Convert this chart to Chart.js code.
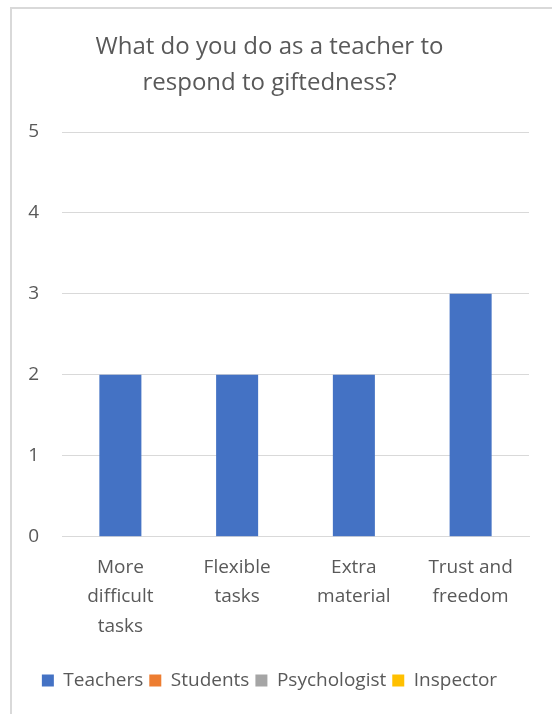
<!DOCTYPE html>
<html>
<head>
<meta charset="utf-8">
<script src="https://cdn.jsdelivr.net/npm/chart.js@4.4.1/dist/chart.umd.min.js"></script>
<style>
  html, body { margin: 0; padding: 0; background: #ffffff; }
  #wrap { position: relative; width: 552px; height: 714px; }
</style>
</head>
<body>
<div id="wrap"><canvas id="c" width="552" height="714"></canvas></div>
<script>
const titleLines = ["What do you do as a teacher to", "respond to giftedness?"];
const categories = [["More", "difficult", "tasks"], ["Flexible", "tasks"], ["Extra", "material"], ["Trust and", "freedom"]];
const seriesNames = ["Teachers", "Students", "Psychologist", "Inspector"];
const teachers = [2, 2, 2, 3];
const students = [null, null, null, null];
const psychologist = [null, null, null, null];
const inspector = [null, null, null, null];
const seriesColors = ["#4472C4", "#ED7D31", "#A5A5A5", "#FFC000"];
const yTicks = [0, 1, 2, 3, 4, 5];

const FONT = "'Open Sans', 'Noto Sans', sans-serif";
const TEXT = "#595959";

// light frame around the chart area
const framePlugin = {
  id: 'frame',
  beforeDraw(chart) {
    const ctx = chart.ctx;
    ctx.save();
    ctx.fillStyle = '#ffffff';
    ctx.fillRect(0, 0, chart.width, chart.height);
    ctx.strokeStyle = '#d9d9d9';
    ctx.lineWidth = 2;
    ctx.strokeRect(11, 8, chart.width + 20, chart.height + 20);
    ctx.restore();
  }
};

const allSeries = [teachers, students, psychologist, inspector];

new Chart(document.getElementById('c'), {
  type: 'bar',
  data: {
    labels: categories,
    datasets: seriesNames.map((name, i) => ({
      label: name,
      data: allSeries[i],
      backgroundColor: seriesColors[i],
      borderWidth: 0,
      grouped: false,
      categoryPercentage: 1,
      barPercentage: 0.36
    }))
  },
  options: {
    responsive: false,
    animation: false,
    devicePixelRatio: 1,
    layout: { padding: { left: 10, right: 23, top: 29, bottom: 14 } },
    plugins: {
      title: {
        display: true,
        text: titleLines,
        color: TEXT,
        font: { family: FONT, size: 24, weight: 'normal', lineHeight: 1.5 },
        padding: { top: 0, bottom: 31 }
      },
      legend: {
        display: true,
        position: 'bottom',
        labels: {
          color: TEXT,
          font: { family: FONT, size: 19 },
          boxWidth: 12,
          boxHeight: 12,
          padding: 6
        }
      },
      tooltip: { enabled: false }
    },
    scales: {
      x: {
        afterFit(axis) { axis.height += 8; },
        grid: { display: false, drawTicks: false },
        border: { display: true, color: '#d9d9d9', width: 1 },
        ticks: {
          color: TEXT,
          font: { family: FONT, size: 19, lineHeight: 1.55 },
          padding: 16,
          maxRotation: 0,
          autoSkip: false
        }
      },
      y: {
        min: 0,
        max: 5,
        afterBuildTicks(axis) { axis.ticks = yTicks.map(v => ({ value: v })); },
        afterFit(axis) { axis.width = 52; },
        grid: { color: '#d9d9d9', drawTicks: false },
        border: { display: false },
        ticks: {
          color: TEXT,
          font: { family: FONT, size: 19 },
          padding: 23
        }
      }
    }
  },
  plugins: [framePlugin]
});
</script>
</body>
</html>
